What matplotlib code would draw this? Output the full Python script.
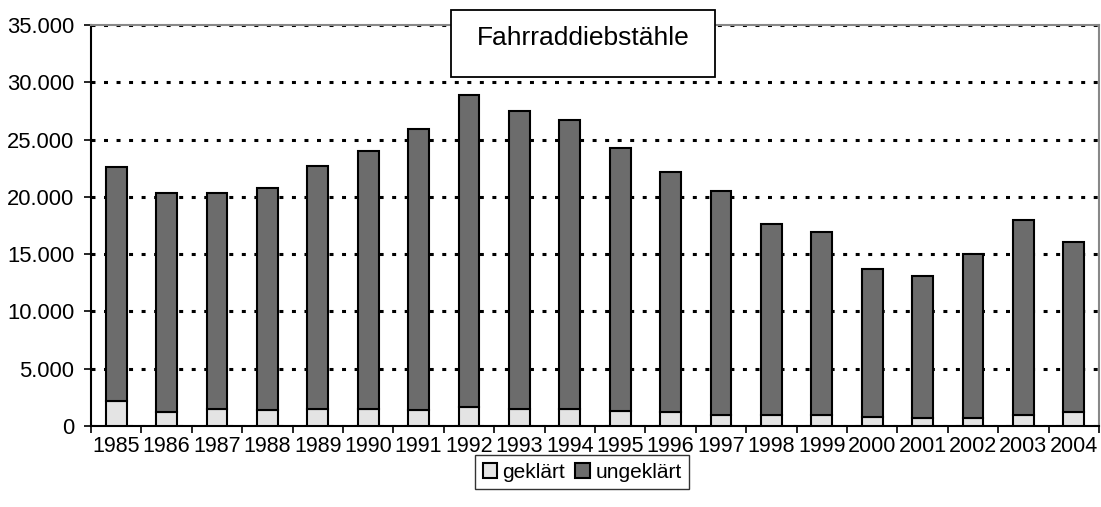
import numpy as np
import matplotlib.pyplot as plt
from matplotlib.patches import Rectangle
from matplotlib.ticker import FuncFormatter

plt.rcParams['font.family'] = ['Liberation Sans', 'DejaVu Sans']

years = [str(y) for y in range(1985, 2005)]
gesamt = [22600, 20300, 20300, 20800, 22700, 24000, 25900, 28900, 27500, 26700,
          24300, 22200, 20500, 17600, 16900, 13700, 13100, 15000, 18000, 16100]
geklaert = [2200, 1200, 1500, 1400, 1500, 1500, 1400, 1700, 1500, 1500,
            1300, 1200, 1000, 1000, 1000, 800, 700, 700, 1000, 1200]
ungeklaert = [g - k for g, k in zip(gesamt, geklaert)]

fig = plt.figure(figsize=(11.01, 5.07), dpi=100)
ax = fig.add_axes([91/1101, 1 - 426/507, 1008/1101, 401/507])

x = np.arange(len(years))
w = 0.41
ax.bar(x, geklaert, w, color='#e4e4e4', edgecolor='black', linewidth=1.5,
       label='geklärt', zorder=3)
ax.bar(x, ungeklaert, w, bottom=geklaert, color='#6c6c6c', edgecolor='black',
       linewidth=1.5, label='ungeklärt', zorder=3)

ax.set_xlim(-0.5, len(years) - 0.5)
ax.set_ylim(0, 35000)
ax.set_yticks(np.arange(0, 35001, 5000))
ax.yaxis.set_major_formatter(FuncFormatter(lambda v, p: f"{int(v):,}".replace(',', '.')))
ax.set_xticks(x)
ax.set_xticklabels(years)
ax.set_xticks(np.arange(-0.5, len(years)), minor=True)
ax.tick_params(axis='x', which='major', length=0, labelsize=15.5, pad=7)
ax.tick_params(axis='x', which='minor', length=5, width=1.2, direction='out')
ax.tick_params(axis='y', length=5, width=1.2, direction='out', labelsize=15.8, pad=7)

ax.yaxis.grid(True, color='black', linestyle=(0, (1.3, 2.8)), linewidth=2.2, zorder=0)
ax.set_axisbelow(True)
for s in ['left', 'bottom']:
    ax.spines[s].set_linewidth(1.5)
for s in ['top', 'right']:
    ax.spines[s].set_color('#888888')
    ax.spines[s].set_linewidth(1.5)

fig.patches.append(Rectangle((451/1101, 1 - 77/507), 264/1101, 67/507,
                             transform=fig.transFigure, facecolor='white',
                             edgecolor='black', linewidth=1.3, zorder=5))
fig.text(583/1101, 1 - 38/507, 'Fahrraddiebstähle', ha='center', va='center',
         fontsize=19, zorder=6)

leg = fig.legend(loc='center', bbox_to_anchor=(582/1101, 1 - 472/507), ncol=2,
                 fontsize=15, frameon=True, fancybox=False, edgecolor='black',
                 handlelength=0.7, handleheight=0.7, handletextpad=0.25,
                 columnspacing=0.5, borderpad=0.35)
leg.get_frame().set_linewidth(1.0)

plt.savefig('out.png', dpi=100)
